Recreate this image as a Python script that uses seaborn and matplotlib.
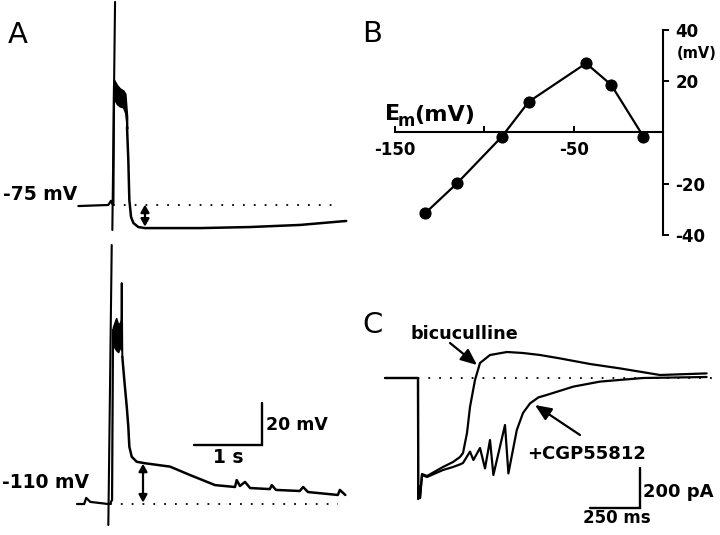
import matplotlib
matplotlib.use("Agg")
import matplotlib.pyplot as plt
import seaborn as sns
import numpy as np
import pandas as pd

# ---------------- data ----------------
# Panel A, top trace (-75 mV): time (s) vs membrane potential (mV)
top_pre_t = [-0.51, -0.25, -0.07, -0.03, -0.01, 0.005, 0.015]
top_pre_v = [-75.5, -75.2, -75.0, -73.0, -74.5, -74.5, -18.0]
top_plat_t = [0.015, 0.06, 0.10, 0.15, 0.18, 0.206]
top_plat_hi = [-15.5, -18.0, -19.5, -20.5, -22.0, -33.0]
top_plat_lo = [-24.5, -27.0, -28.0, -28.5, -31.0, -38.5]
top_dec_t = [0.206, 0.225, 0.24, 0.265, 0.30, 0.372, 0.47, 1.28, 2.01, 2.75, 3.43]
top_dec_v = [-37.9, -53.6, -72.6, -80.7, -83.6, -85.5, -86.0, -86.0, -85.5, -84.5, -82.6]
top_stim_t = [0.03, -0.01]
top_stim_v = [21.7, -86.9]

# Panel A, bottom trace (-110 mV)
bot_pre_t = [-0.485, -0.38, -0.35, -0.29, -0.03, 0.0, 0.03, 0.044]
bot_pre_v = [-110.0, -110.0, -107.1, -109.0, -110.0, -110.0, -108.0, -27.0]
bot_plat_t = [0.044, 0.09, 0.12, 0.15, 0.165]
bot_plat_hi = [-25.7, -21.5, -24.8, -23.4, -22.4]
bot_plat_lo = [-34.3, -36.7, -37.6, -34.3, -36.7]
bot_spike_t = [0.165, 0.172, 0.181]
bot_spike_v = [-30.0, -4.8, -39.9]
bot_dec_t = [0.181, 0.21, 0.246, 0.269, 0.284, 0.319, 0.393, 0.515, 0.882, 1.176,
             1.544, 1.838, 1.863, 1.91, 1.985, 2.06, 2.35, 2.378, 2.44, 2.79,
             2.84, 2.91, 3.35, 3.38, 3.46]
bot_dec_v = [-39.9, -51.0, -63.7, -73.2, -82.7, -87.5, -89.9, -90.6, -92.2, -96.2,
             -101.0, -101.9, -98.6, -101.4, -99.5, -102.4, -102.9, -101.0, -103.3, -103.8,
             -101.9, -104.3, -105.7, -103.3, -105.7]
bot_stim_t = [0.025, -0.025]
bot_stim_v = [13.3, -120.0]

# Panel B: amplitude vs membrane potential
em_mv = [-133, -115, -90, -75, -43, -29, -11]
amp_mv = [-31.6, -19.8, -1.6, 12.0, 27.0, 18.6, -1.6]
b_xticks = [-150, -100, -50]
b_xticklabels = ["-150", "", "-50"]
b_yticks = [-40, -20, 20, 40]
b_yticklabels = ["-40", "-20", "20", "40"]

# Panel C: currents (ms, pA)
bic_t = [-165, 0, 1, 5, 10, 20, 45, 125, 175, 210, 225, 245, 260, 285, 310, 360, 445,
         525, 610, 710, 860, 1010, 1210, 1443]
bic_i = [0, 0, -605, -540, -600, -480, -490, -445, -420, -395, -375, -275, -145, -10,
         75, 115, 130, 125, 115, 98, 70, 48, 15, 23]
cgp_t = [-165, 0, 1, 5, 10, 20, 45, 125, 175, 210, 225, 260, 277, 310, 335, 360, 377,
         435, 452, 494, 525, 560, 602, 643, 777, 910, 1125, 1443]
cgp_i = [0, 0, -605, -540, -600, -485, -495, -460, -445, -432, -425, -368, -410, -350,
         -452, -310, -485, -235, -477, -260, -175, -127, -97, -85, -43, -18, 0, 5]

# ---------------- figure ----------------
sns.set_theme(style="white")
plt.rcParams["font.family"] = ["DejaVu Sans"]
plt.rcParams["axes.unicode_minus"] = False

W, H = 720, 535
fig = plt.figure(figsize=(W / 100, H / 100), dpi=100)
fig.patch.set_facecolor("white")


def add_ax(x0, y0, x1, y1):
    ax = fig.add_axes([x0 / W, 1 - y1 / H, (x1 - x0) / W, (y1 - y0) / H])
    ax.set_facecolor("none")
    return ax


def ftext(x, y, s, size, ha="left", va="baseline", weight="bold", **kw):
    fig.text(x / W, 1 - y / H, s, fontsize=size, ha=ha, va=va, color="black",
             fontweight=weight, **kw)


LW = 1.6
K = "black"


def trace(ax, t, v, lw=LW):
    sns.lineplot(x=t, y=v, ax=ax, color=K, lw=lw, sort=False, estimator=None)


dbl_arrow = dict(arrowstyle="<|-|>,head_length=0.45,head_width=0.25",
                 color=K, lw=1.6, mutation_scale=10, shrinkA=0, shrinkB=0)

# ----- Panel A top -----
axA1 = add_ax(0, 0, 360, 240)
axA1.set_xlim(-1.662, 3.632)
axA1.set_ylim(-91.67, 22.62)
axA1.axis("off")
trace(axA1, top_pre_t, top_pre_v)
axA1.fill_between(top_plat_t, top_plat_lo, top_plat_hi, color=K, lw=1.2, edgecolor=K)
trace(axA1, top_dec_t, top_dec_v, lw=1.8)
trace(axA1, top_stim_t, top_stim_v, lw=1.5)
axA1.plot([0.0, 3.34], [-75, -75], color=K, lw=1.3, ls=(0, (1, 5)))
axA1.annotate("", xy=(0.47, -85.3), xytext=(0.47, -74.8), arrowprops=dbl_arrow)

# ----- Panel A bottom -----
axA2 = add_ax(0, 240, 360, 535)
axA2.set_xlim(-1.618, 3.676)
axA2.set_ylim(-124.76, 15.71)
axA2.axis("off")
trace(axA2, bot_pre_t, bot_pre_v)
axA2.fill_between(bot_plat_t, bot_plat_lo, bot_plat_hi, color=K, lw=1.2, edgecolor=K)
trace(axA2, bot_spike_t, bot_spike_v, lw=1.4)
trace(axA2, bot_dec_t, bot_dec_v, lw=1.8)
trace(axA2, bot_stim_t, bot_stim_v, lw=1.5)
axA2.plot([0.0, 3.35], [-110, -110], color=K, lw=1.3, ls=(0, (1, 5)))
axA2.annotate("", xy=(0.485, -90.8), xytext=(0.485, -109.3), arrowprops=dbl_arrow)
# scale bar 1 s / 20 mV
axA2.plot([1.235, 2.235, 2.235], [-81.9, -81.9, -61.9], color=K, lw=1.7,
          solid_joinstyle="miter")

ftext(8, 43, "A", 21, weight="normal")
ftext(3, 200, "-75 mV", 13.5)
ftext(2, 488, "-110 mV", 13.5)
ftext(266, 430, "20 mV", 12.5)
ftext(228, 463, "1 s", 13.5, ha="center")

# ----- Panel B -----
axB = add_ax(360, 0, 720, 260)
axB.set_xlim(-169.3, 31.8)
axB.set_ylim(-49.8, 51.7)
dfB = pd.DataFrame({"Em": em_mv, "amp": amp_mv})
sns.lineplot(data=dfB, x="Em", y="amp", ax=axB, color=K, lw=1.6, marker="o",
             markersize=8, markeredgecolor=K, markerfacecolor=K, sort=False,
             estimator=None)
for side in ["top", "left"]:
    axB.spines[side].set_visible(False)
axB.spines["bottom"].set_position(("data", 0))
axB.spines["bottom"].set_bounds(-150, 0)
axB.spines["right"].set_position(("data", 0))
axB.spines["right"].set_bounds(-40, 40)
for side in ["bottom", "right"]:
    axB.spines[side].set_color(K)
    axB.spines[side].set_linewidth(1.5)
axB.yaxis.tick_right()
axB.set_xticks(b_xticks)
axB.set_xticklabels(b_xticklabels)
axB.set_yticks(b_yticks)
axB.set_yticklabels(b_yticklabels)
axB.tick_params(axis="x", direction="in", length=4, width=1.4, color=K,
                labelsize=12, pad=6, bottom=True, labelcolor=K)
axB.tick_params(axis="y", direction="out", length=4, width=1.4, color=K,
                labelsize=12, pad=5, right=True, left=False, labelcolor=K)
for lab in axB.get_xticklabels() + axB.get_yticklabels():
    lab.set_fontweight("bold")
axB.set_xlabel("")
axB.set_ylabel("")
axB.grid(False)

ftext(362, 42, "B", 21, weight="normal")
ftext(385, 120, "E", 16)
ftext(398, 126, "m", 12)
ftext(414, 121, "(mV)", 16)
ftext(677, 58, "(mV)", 10.5)

# ----- Panel C -----
axC = add_ax(360, 290, 720, 535)
axC.set_xlim(-290, 1510)
axC.set_ylim(-785, 440)
axC.axis("off")
trace(axC, bic_t, bic_i, lw=1.6)
trace(axC, cgp_t, cgp_i, lw=1.6)
axC.plot([-165, 1485], [0, 0], color=K, lw=1.3, ls=(0, (1, 5)))
axC.plot([860, 1110, 1110], [-650, -650, -450], color=K, lw=1.7,
         solid_joinstyle="miter")
arrow_kw = dict(arrowstyle="-|>,head_length=0.7,head_width=0.3", color=K, lw=1.6,
                mutation_scale=14, shrinkA=0, shrinkB=0)
axC.annotate("", xy=(295, 65), xytext=(160, 175), arrowprops=arrow_kw)
axC.annotate("", xy=(585, -135), xytext=(810, -285), arrowprops=arrow_kw)

ftext(362, 333, "C", 21, weight="normal")
ftext(410, 339, "bicuculline", 12.7)
ftext(527, 459, "+CGP55812", 13)
ftext(643, 497, "200 pA", 13)
ftext(617, 523, "250 ms", 12, ha="center")

fig.savefig("out.png", dpi=100, facecolor="white")
